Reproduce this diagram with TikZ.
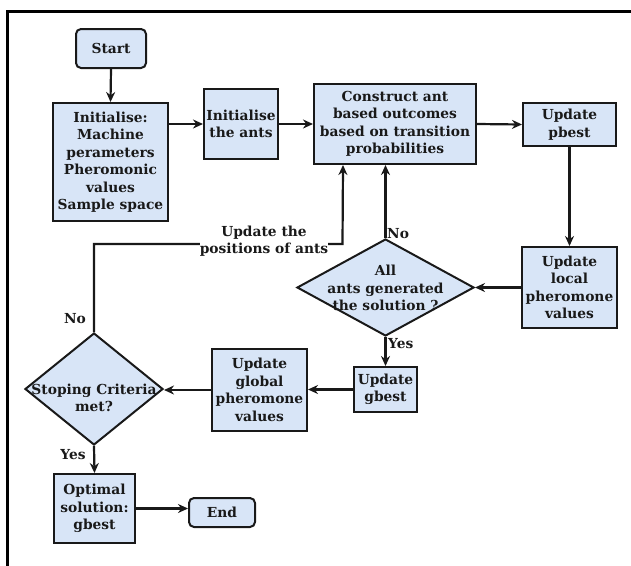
\documentclass[tikz,border=0pt]{standalone}
\usepackage{fontspec}
\setmainfont{DejaVu Serif}
\usetikzlibrary{shapes.geometric,arrows.meta,calc}
\definecolor{boxfill}{RGB}{216,229,247}
\definecolor{edge}{RGB}{25,25,25}
\begin{document}
\begin{tikzpicture}[x=1pt,y=-1pt,
  every node/.style={font=\bfseries\fontsize{13.8}{17.5}\selectfont, text=edge},
  procbox/.style={draw=edge, line width=2pt, fill=boxfill, align=center, inner sep=0pt},
  termbox/.style={procbox, rounded corners=5pt},
  decbox/.style={diamond, draw=edge, line width=2pt, fill=boxfill, inner sep=0pt, aspect=1.8},
  txt/.style={align=center, inner sep=1pt},
  arr/.style={line width=2.2pt, draw=edge, -{Stealth[length=10pt,width=9pt]}}]
\useasboundingbox (0,0) rectangle (631,565);
% outer frame
\draw[line width=2.8pt] (7.5,566) -- (7.5,11.5) -- (632,11.5);

% nodes
\node[termbox, minimum width=70, minimum height=39] (start) at (111,48.5) {Start};
\node[procbox, minimum width=115, minimum height=118] (init) at (110.5,162) {Initialise:\\Machine\\perameters\\Pheromonic\\values\\Sample space};
\node[procbox, minimum width=74, minimum height=70] (ants) at (241,124) {Initialise\\the ants};
\node[procbox, minimum width=162, minimum height=80] (cons) at (395,124) {Construct ant\\based outcomes\\based on transition\\probabilities};
\node[procbox, minimum width=93, minimum height=43] (pbest) at (569.5,124.5) {Update\\pbest};
\node[procbox, minimum width=95, minimum height=81] (local) at (569.5,287.5) {Update\\local\\pheromone\\values};
\node[decbox, minimum width=177, minimum height=97] (all) at (385.5,287.5) {};
\node[txt] (alltext) at (385.5,288) {All\\ants generated\\the solution ?};
\node[procbox, minimum width=63, minimum height=45] (gbest) at (385.5,389.5) {Update\\gbest};
\node[procbox, minimum width=95, minimum height=82] (global) at (259.5,390) {Update\\global\\pheromone\\values};
\node[decbox, minimum width=138, minimum height=112] (stop) at (94,389) {};
\node[txt] (stoptext) at (94,398) {Stoping Criteria\\met?};
\node[procbox, minimum width=81, minimum height=69] (opt) at (94.5,508.5) {Optimal\\solution:\\gbest};
\node[termbox, minimum width=66, minimum height=29] (end) at (222,512.5) {End};

% connectors
\draw[arr] (start.south) -- (init.north);
\draw[arr] (ants.west -| init.east) -- (ants.west);
\draw[arr] (ants.east) -- (cons.west);
\draw[arr] (cons.east) -- (pbest.west);
\draw[arr] (pbest.south) -- (local.north);
\draw[arr] (local.west) -- (all.east);
\draw[arr] (all.north) -- (all.north |- cons.south);
\draw[arr] (all.south) -- (gbest.north);
\draw[arr] (gbest.west) -- (gbest.west -| global.east);
\draw[arr] (global.west) -- (global.west -| stop.east);
\draw[arr] (stop.south) -- (opt.north);
\draw[arr] (opt.east) -- (opt.east -| end.west);

% loop back from the stopping test
\coordinate (loopin) at ($(cons.south)+(-52,0)$);
\coordinate (loopturn) at (342.5,244);
\draw[arr] (stop.north) |- (loopturn) -- (loopin);
\node[txt, fill=white, inner sep=0pt] (posn) at (264,241) {Update the\\positions of ants};

% branch labels
\node[txt, anchor=west] (no1) at (386,234) {No};
\node[txt] (no2) at (75,319) {No};
\node[txt, anchor=west] (yes1) at (387,344) {Yes};
\node[txt] (yes2) at (73,455) {Yes};
\end{tikzpicture}
\end{document}
